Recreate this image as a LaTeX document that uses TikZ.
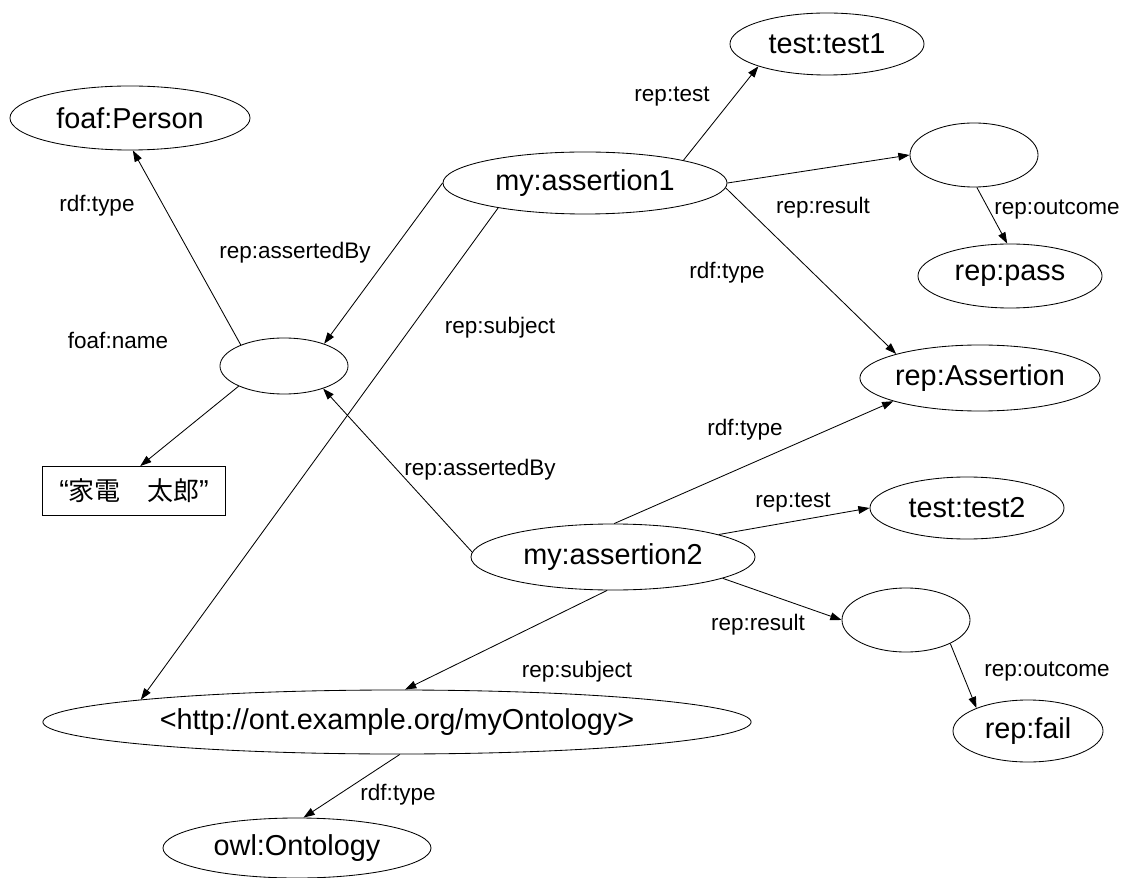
\documentclass[tikz,border=0pt]{standalone}
\usepackage{fontspec}
\setmainfont{Liberation Sans}
\newfontfamily\cjk{Noto Sans CJK JP}
\usetikzlibrary{shapes.geometric, arrows.meta}

\begin{document}
\begin{tikzpicture}[x=0.025cm, y=-0.025cm,
    res/.style={ellipse, draw, line width=0.6pt, inner sep=0pt, font=\fontsize{20.5}{24}\selectfont},
    lit/.style={rectangle, draw, line width=0.6pt, inner sep=0pt, font=\fontsize{20.5}{24}\selectfont},
    prop/.style={inner sep=0pt, font=\fontsize{16}{19}\selectfont},
    link/.style={-{Triangle[length=8pt,width=5.5pt]}, line width=0.6pt}]
  \useasboundingbox (0,0) rectangle (1122,878);

  \node[res, minimum width=6cm, minimum height=1.6cm] (person) at (130,118) {foaf:Person};
  \node[res, minimum width=3.2cm, minimum height=1.4cm] (blank) at (284,366) {};
  \node[lit, minimum width=4.575cm, minimum height=1.225cm] (name) at (134,491)
      {“{\cjk\fontsize{18.5}{22}\selectfont 家電　太郎}”};
  \node[res, minimum width=7.1cm, minimum height=1.55cm] (a1) at (585,183) {my:assertion1};
  \node[res, minimum width=4.85cm, minimum height=1.55cm] (test1) at (827,44) {test:test1};
  \node[res, minimum width=3.2cm, minimum height=1.6cm] (r1) at (974,155) {};
  \node[res, minimum width=4.6cm, minimum height=1.6cm] (pass) at (1010,276) {rep:pass};
  \node[res, minimum width=6cm, minimum height=1.65cm] (assertion) at (980,378) {rep:Assertion};
  \node[res, minimum width=7.1cm, minimum height=1.65cm] (a2) at (613,557) {my:assertion2};
  \node[res, minimum width=4.85cm, minimum height=1.55cm] (test2) at (967,508) {test:test2};
  \node[res, minimum width=3.2cm, minimum height=1.6cm] (r2) at (906,620) {};
  \node[res, minimum width=3.75cm, minimum height=1.55cm] (fail) at (1028,731) {rep:fail};
  \node[res, minimum width=17.7cm, minimum height=1.6cm] (onto) at (397,722)
      {<http://ont.example.org/myOntology>};
  \node[res, minimum width=6.7cm, minimum height=1.5cm] (owl) at (297,848) {owl:Ontology};

  \draw[link] (blank.154) -- (person.-85);
  \draw[link] (blank.204) -- (name.76);
  \draw[link] (a1.west) -- (blank.29);
  \draw[link] (a2.178) -- (blank.-30);
  \draw[link] (a1.196) -- (onto.175);
  \draw[link] (a1.13) -- (test1.198);
  \draw[link] (a1.east) -- (r1.west);
  \draw[link] (a1.-2) -- (assertion.164);
  \draw[link] (r1.-85) -- (pass.95);
  \draw[link] (a2.88) -- (assertion.195);
  \draw[link] (a2.12) -- (test2.west);
  \draw[link] (a2.-11) -- (r2.west);
  \draw[link] (r2.-28) -- (fail.156);
  \draw[link] (a2.-100) -- (onto.76);
  \draw[link] (onto.-85) -- (owl.78);

  \node[prop] (type1) at (97,206) {rdf:type};
  \node[prop] (fname) at (118,340) {foaf:name};
  \node[prop] (by1) at (295,253) {rep:assertedBy};
  \node[prop] (by2) at (480,470) {rep:assertedBy};
  \node[prop] (subj1) at (500,328) {rep:subject};
  \node[prop] (subj2) at (577,672) {rep:subject};
  \node[prop] (tst1) at (672,97) {rep:test};
  \node[prop] (res1) at (823,208) {rep:result};
  \node[prop] (type2) at (727,273) {rdf:type};
  \node[prop] (out1) at (1057,210) {rep:outcome};
  \node[prop] (type3) at (745,430) {rdf:type};
  \node[prop] (tst2) at (793,503) {rep:test};
  \node[prop] (res2) at (758,625) {rep:result};
  \node[prop] (out2) at (1047,672) {rep:outcome};
  \node[prop] (type4) at (398,795) {rdf:type};
\end{tikzpicture}
\end{document}
